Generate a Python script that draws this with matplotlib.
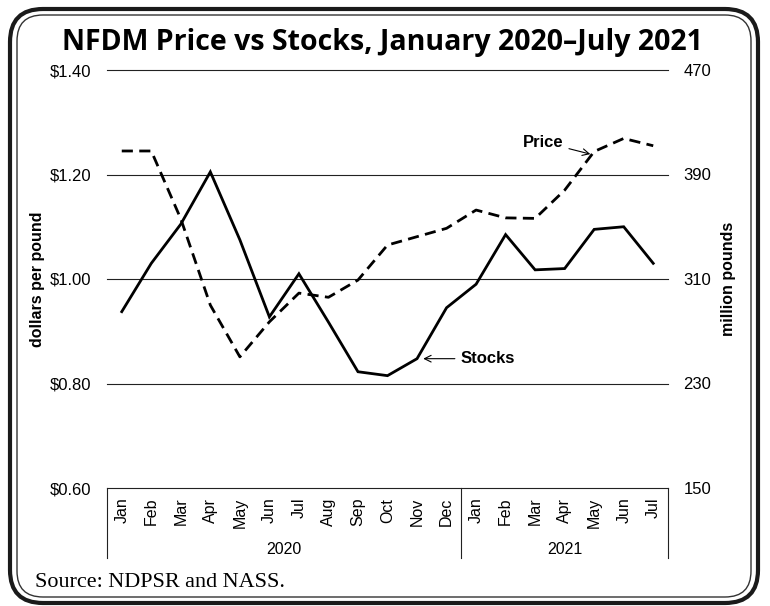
import numpy as np
import matplotlib
matplotlib.use('Agg')
import matplotlib.pyplot as plt
from matplotlib.patches import FancyBboxPatch
from matplotlib.transforms import IdentityTransform, blended_transform_factory

plt.rcParams['font.family'] = ['Liberation Sans', 'DejaVu Sans']

# data
months = ['Jan', 'Feb', 'Mar', 'Apr', 'May', 'Jun', 'Jul', 'Aug', 'Sep', 'Oct', 'Nov', 'Dec',
          'Jan', 'Feb', 'Mar', 'Apr', 'May', 'Jun', 'Jul']
years = ['2020', '2021']
year_counts = [12, 7]
price = [1.245, 1.245, 1.115, 0.950, 0.851, 0.918, 0.973, 0.965, 0.998, 1.065, 1.081, 1.097,
         1.132, 1.117, 1.116, 1.170, 1.244, 1.269, 1.255]
stocks = [285, 322, 352, 392, 340, 281, 314, 277, 239, 236, 249, 288,
          306, 344, 317, 318, 348, 350, 322]
price_ticks = [0.60, 0.80, 1.00, 1.20, 1.40]
stock_ticks = [150, 230, 310, 390, 470]

W, H = 770, 606
fig = plt.figure(figsize=(W / 100, H / 100), dpi=100)

# rounded double frame
outer = FancyBboxPatch((10, 3), 748, 594, boxstyle='round,pad=0,rounding_size=33',
                       transform=IdentityTransform(), fill=False, lw=3.0, ec='#1a1a1a')
inner = FancyBboxPatch((17, 9), 734, 582, boxstyle='round,pad=0,rounding_size=26',
                       transform=IdentityTransform(), fill=False, lw=1.0, ec='#333333')
fig.add_artist(outer)
fig.add_artist(inner)

ax = fig.add_axes([107 / W, 118 / H, 561 / W, 418 / H])
ax2 = ax.twinx()

x = np.arange(len(months))
ax.plot(x, price, color='black', lw=2.0, dashes=(4.0, 2.3))
ax2.plot(x, stocks, color='black', lw=2.0, solid_joinstyle='miter')

ax.set_xlim(-0.5, len(months) - 0.5)
ax.set_ylim(price_ticks[0], price_ticks[-1])
ax2.set_ylim(stock_ticks[0], stock_ticks[-1])
ax.set_yticks(price_ticks, ['${:.2f}'.format(v) for v in price_ticks])
ax2.set_yticks(stock_ticks, [str(v) for v in stock_ticks])
ax.set_xticks(x, months, rotation=90, fontsize=11.5)

for a in (ax, ax2):
    for s in a.spines.values():
        s.set_visible(False)
ax.tick_params(axis='y', length=0, pad=11, labelsize=12)
ax2.tick_params(axis='y', length=0, pad=11, labelsize=12)
ax.tick_params(axis='x', length=0, pad=7)

ax.grid(axis='y', color='#222222', lw=0.8)
ax.grid(axis='x', visible=False)
for gl in ax.get_ygridlines():
    gl.set_clip_on(False)

ax.set_ylabel('dollars per pound', fontsize=11.5, fontweight='bold', labelpad=4)
ax2.set_ylabel('million pounds', fontsize=11.5, fontweight='bold', labelpad=7)

# category box under the axis
tr = blended_transform_factory(ax.transData, ax.transAxes)
box_depth = -(558 - 488) / 418
edges = np.concatenate([[0], np.cumsum(year_counts)]) - 0.5
for e in edges:
    ax.plot([e, e], [0, box_depth], transform=tr, color='#222222', lw=0.8, clip_on=False)
for i, yr in enumerate(years):
    ax.text((edges[i] + edges[i + 1]) / 2, -(550 - 488) / 418, yr, transform=tr,
            ha='center', va='center', fontsize=11.5)

arrow = dict(arrowstyle='->', lw=0.8, color='black', shrinkA=2, shrinkB=0)
ax.annotate('Price', xy=(15.87, 1.239), xytext=(14.96, 1.262), ha='right', va='center',
            fontsize=12, fontweight='bold', arrowprops=arrow)
ax2.annotate('Stocks', xy=(10.21, 249), xytext=(11.47, 249), ha='left', va='center',
             fontsize=12, fontweight='bold', arrowprops=arrow)

title = fig.text(382 / W, (H - 50) / H, 'NFDM Price vs Stocks, January 2020\u2013July 2021',
                 ha='center', va='baseline', fontsize=20, fontweight='bold',
                 family=['Open Sans', 'DejaVu Sans'])
source = fig.text(35 / W, (H - 587) / H, 'Source: NDPSR and NASS.', ha='left', va='baseline',
                  fontsize=13, family=['Liberation Serif', 'DejaVu Serif'])

# fit title and source widths to the reference
fig.canvas.draw()
for t, target in ((title, 641), (source, 249)):
    w = t.get_window_extent().width
    t.set_fontsize(t.get_fontsize() * target / w)

fig.savefig('out.png', dpi=100)
